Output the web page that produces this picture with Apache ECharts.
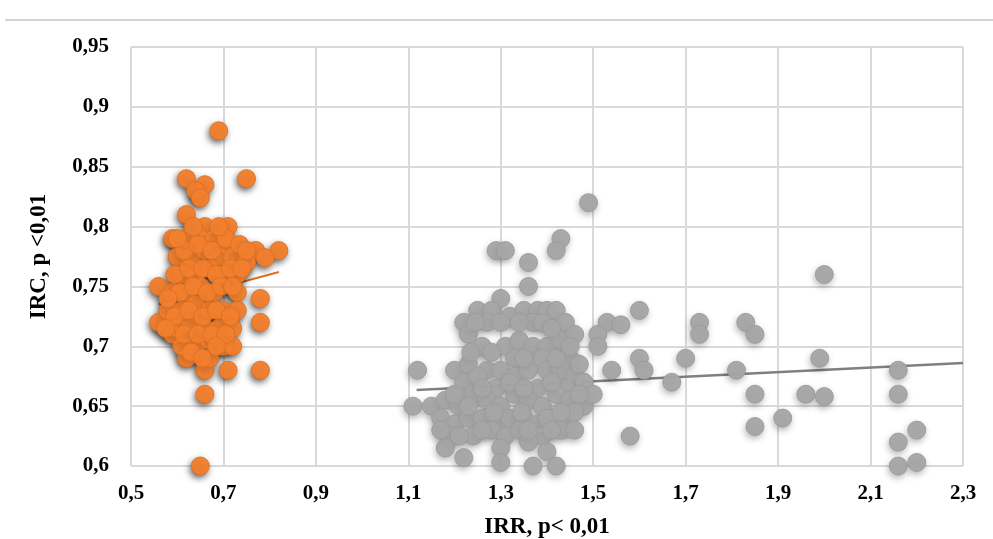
<!DOCTYPE html>
<html>
<head>
<meta charset="utf-8">
<script src="https://cdn.jsdelivr.net/npm/echarts@6/dist/echarts.min.js"></script>
<style>html,body{margin:0;padding:0;background:#fff;}#c{width:993px;height:539px;}</style>
</head>
<body>
<div id="c"></div>
<script>
// ---- data ----
const orangePoints = [
  [0.69,0.88],[0.75,0.84],[0.62,0.84],[0.66,0.835],[0.64,0.83],[0.65,0.824],[0.62,0.81],
  [0.65,0.60],[0.66,0.66],[0.66,0.68],[0.71,0.68],[0.78,0.68],
  [0.66,0.80],[0.71,0.80],[0.59,0.79],[0.77,0.78],[0.82,0.78],[0.79,0.774],[0.56,0.75],
  [0.78,0.74],[0.78,0.72],[0.56,0.72],[0.59,0.71],[0.62,0.69],[0.67,0.69],[0.70,0.70],
  [0.62,0.79],[0.65,0.79],[0.68,0.79],[0.71,0.785],
  [0.60,0.775],[0.63,0.775],[0.66,0.78],[0.69,0.775],[0.72,0.775],[0.75,0.77],
  [0.61,0.76],[0.64,0.76],[0.67,0.765],[0.70,0.76],[0.73,0.76],
  [0.59,0.745],[0.62,0.745],[0.65,0.75],[0.68,0.745],[0.73,0.745],
  [0.58,0.73],[0.61,0.73],[0.64,0.735],[0.67,0.73],[0.70,0.73],[0.73,0.73],
  [0.60,0.715],[0.63,0.72],[0.66,0.715],[0.69,0.715],[0.72,0.715],
  [0.61,0.70],[0.64,0.70],[0.67,0.705],[0.72,0.70],
  [0.595,0.76],[0.625,0.765],[0.655,0.765],[0.685,0.76],[0.715,0.765],
  [0.605,0.745],[0.635,0.75],[0.665,0.745],[0.695,0.75],[0.72,0.75],
  [0.595,0.725],[0.625,0.73],[0.655,0.725],[0.685,0.73],[0.715,0.725],
  [0.615,0.71],[0.645,0.71],[0.675,0.71],[0.705,0.71],
  [0.63,0.695],[0.655,0.69],[0.685,0.70],
  [0.615,0.78],[0.645,0.785],[0.675,0.78],[0.705,0.79],[0.735,0.785],
  [0.635,0.80],[0.69,0.80],[0.60,0.79],[0.75,0.78],[0.74,0.765],
  [0.58,0.74],[0.575,0.715]
];
const grayPoints = [
  [1.49,0.82],[1.43,0.79],[1.42,0.78],[1.29,0.78],[1.31,0.78],[1.36,0.77],[1.36,0.75],[1.30,0.74],
  [1.25,0.73],[1.28,0.73],[1.32,0.725],[1.35,0.73],[1.38,0.73],[1.40,0.73],[1.42,0.73],[1.44,0.72],
  [1.22,0.72],[1.23,0.71],[1.27,0.72],[1.37,0.72],
  [1.26,0.70],[1.31,0.70],[1.34,0.705],[1.37,0.70],[1.40,0.70],[1.43,0.705],[1.45,0.69],[1.33,0.69],[1.39,0.69],
  [1.12,0.68],[1.20,0.68],[1.23,0.685],[1.27,0.68],[1.30,0.68],[1.33,0.675],[1.36,0.68],[1.40,0.68],
  [1.43,0.68],[1.46,0.675],[1.48,0.67],[1.22,0.67],[1.29,0.665],[1.38,0.665],[1.44,0.665],
  [1.11,0.65],[1.15,0.65],[1.18,0.655],[1.21,0.65],[1.24,0.66],[1.27,0.655],[1.30,0.65],[1.33,0.66],
  [1.36,0.655],[1.39,0.65],[1.42,0.66],[1.45,0.655],[1.48,0.65],[1.50,0.66],
  [1.17,0.64],[1.20,0.635],[1.23,0.64],[1.26,0.64],[1.29,0.635],[1.32,0.64],[1.35,0.64],[1.38,0.635],
  [1.41,0.64],[1.44,0.635],[1.46,0.645],
  [1.19,0.625],[1.24,0.625],[1.28,0.63],[1.31,0.625],[1.34,0.63],[1.39,0.625],[1.43,0.63],[1.46,0.63],
  [1.18,0.615],[1.22,0.607],[1.30,0.615],[1.30,0.603],[1.36,0.62],[1.40,0.612],[1.37,0.60],[1.42,0.60],
  [1.235,0.695],[1.28,0.695],[1.35,0.69],[1.42,0.69],[1.47,0.685],
  [1.25,0.675],[1.32,0.67],[1.35,0.665],[1.41,0.67],[1.47,0.66],
  [1.20,0.66],[1.26,0.665],[1.23,0.65],[1.285,0.645],[1.345,0.645],[1.40,0.64],[1.43,0.645],
  [1.21,0.625],[1.26,0.63],[1.36,0.63],[1.41,0.63],[1.17,0.63],
  [1.245,0.72],[1.30,0.72],[1.34,0.72],[1.39,0.72],[1.41,0.715],[1.46,0.71],[1.45,0.70],
  [1.53,0.72],[1.56,0.718],[1.51,0.71],[1.51,0.70],[1.54,0.68],[1.60,0.73],[1.60,0.69],[1.61,0.68],
  [1.73,0.72],[1.73,0.71],[1.83,0.72],[1.85,0.71],[1.70,0.69],[1.67,0.67],[1.81,0.68],[1.85,0.66],
  [1.85,0.633],[1.91,0.64],[1.96,0.66],[2.00,0.658],[1.99,0.69],[2.00,0.76],[2.16,0.68],[2.16,0.66],
  [2.20,0.63],[2.16,0.62],[2.16,0.60],[2.20,0.603],[1.58,0.625]
];
const orangeTrend = [[0.56,0.735],[0.82,0.762]];
const grayTrend = [[1.118,0.6635],[2.30,0.686]];
const xTickLabels = ['0,5','0,7','0,9','1,1','1,3','1,5','1,7','1,9','2,1','2,3'];
const yTickLabels = ['0,6','0,65','0,7','0,75','0,8','0,85','0,9','0,95'];
const xTitle = 'IRR, p< 0,01';
const yTitle = 'IRC, p <0,01';

const chart = echarts.init(document.getElementById('c'));
const serif = '"Liberation Serif","Times New Roman",serif';
const labelFont = {color:'#000', fontFamily:serif, fontWeight:'bold', fontSize:21};
const ORANGE = '#F3802E', GRAY = '#A6A6A6';
chart.setOption({
  animation:false,
  backgroundColor:'#fff',
  graphic:[{type:'line', shape:{x1:5,y1:20,x2:993,y2:20}, style:{stroke:'#d4d4d4', lineWidth:2}}],
  grid:{left:131, right:30, top:47, bottom:73, containLabel:false, outerBoundsMode:'none'},
  xAxis:{type:'value', min:0.5, max:2.3, interval:0.2,
    axisLine:{show:false}, axisTick:{show:false},
    splitLine:{show:true, lineStyle:{color:'#d9d9d9', width:2}},
    axisLabel:Object.assign({margin:17, formatter:(v)=>xTickLabels[Math.round((v-0.5)/0.2)] ?? ''}, labelFont),
    name:xTitle, nameLocation:'middle', nameGap:50,
    nameTextStyle:Object.assign({}, labelFont, {fontSize:23})
  },
  yAxis:{type:'value', min:0.6, max:0.95, interval:0.05,
    axisLine:{show:false}, axisTick:{show:false},
    splitLine:{show:true, lineStyle:{color:'#d9d9d9', width:2}},
    axisLabel:Object.assign({margin:22, formatter:(v)=>yTickLabels[Math.round((v-0.6)/0.05)] ?? ''}, labelFont),
    name:yTitle, nameLocation:'middle', nameGap:80, nameRotate:90,
    nameTextStyle:Object.assign({}, labelFont, {fontSize:23})
  },
  series:[
    {type:'line', data:orangeTrend, showSymbol:false, symbol:'none', z:1,
      lineStyle:{color:'#E07020', width:2}},
    {type:'line', data:grayTrend, showSymbol:false, symbol:'none', z:1,
      lineStyle:{color:'#808080', width:2.5}},
    // shadow layers
    {type:'scatter', data:orangePoints, symbolSize:18, z:2, silent:true,
      itemStyle:{color:ORANGE, shadowBlur:7, shadowColor:'rgba(0,0,0,0.85)', shadowOffsetX:-1.5, shadowOffsetY:3}},
    {type:'scatter', data:grayPoints, symbolSize:18, z:2, silent:true,
      itemStyle:{color:GRAY, shadowBlur:7, shadowColor:'rgba(0,0,0,0.4)', shadowOffsetX:-1, shadowOffsetY:3}},
    // top layers
    {type:'scatter', data:orangePoints, symbolSize:18, z:3,
      itemStyle:{color:ORANGE, borderColor:'#DA6F22', borderWidth:1}},
    {type:'scatter', data:grayPoints, symbolSize:18, z:3,
      itemStyle:{color:GRAY, borderColor:'#9A9A9A', borderWidth:1}}
  ]
});
</script>
</body>
</html>
